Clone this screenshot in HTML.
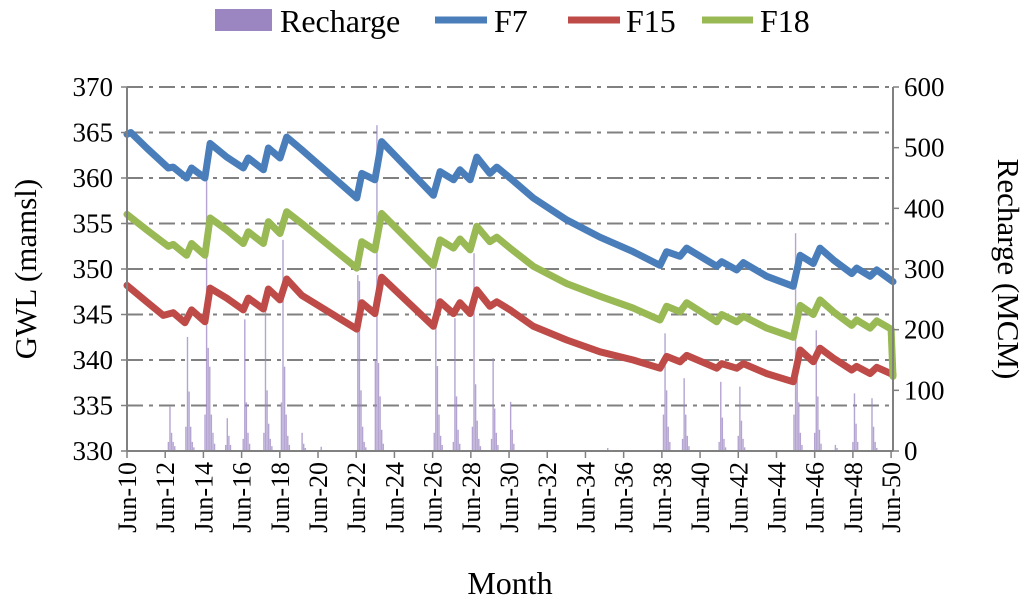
<!DOCTYPE html>
<html><head><meta charset="utf-8"><style>
body{margin:0;background:#fff;}
svg{display:block;font-family:"Liberation Serif",serif;}
</style></head><body>
<svg id="chart" width="1024" height="607" viewBox="0 0 1024 607">
<g id="grid"></g>
<g id="bars"></g>
<g id="lines"></g>
<g id="axes"></g>
<g>
  <rect x="215" y="9" width="57" height="22" fill="#9b86c2"/>
  <text x="280" y="32" font-size="32">Recharge</text>
  <line x1="435" y1="20" x2="487" y2="20" stroke="#4a7ebb" stroke-width="7"/>
  <text x="494" y="32" font-size="32">F7</text>
  <line x1="568" y1="20" x2="620" y2="20" stroke="#be4b48" stroke-width="7"/>
  <text x="626" y="32" font-size="32">F15</text>
  <line x1="702" y1="20" x2="753" y2="20" stroke="#98b954" stroke-width="7"/>
  <text x="760" y="32" font-size="32">F18</text>
</g>
<text x="0" y="0" font-size="31" text-anchor="middle" transform="translate(36,269) rotate(-90)">GWL (mamsl)</text>
<text x="0" y="0" font-size="31" text-anchor="middle" transform="translate(998,269) rotate(90)">Recharge (MCM)</text>
<text x="510" y="594" font-size="32" text-anchor="middle">Month</text>
</svg>
<script>
const leftTicks=[330,335,340,345,350,355,360,365,370];
const rightTicks=[0,100,200,300,400,500,600];
const xTickLabels=["Jun-10","Jun-12","Jun-14","Jun-16","Jun-18","Jun-20","Jun-22","Jun-24","Jun-26","Jun-28","Jun-30","Jun-32","Jun-34","Jun-36","Jun-38","Jun-40","Jun-42","Jun-44","Jun-46","Jun-48","Jun-50"];
const f7T=[0,0.2,1.03,2.16,2.42,3.12,3.38,4.08,4.35,5.22,6.09,6.35,7.14,7.4,8.01,8.36,9.15,12.03,12.29,12.98,13.33,16.04,16.39,17.09,17.43,17.96,18.31,19.0,19.36,20.05,21.27,23.02,24.76,26.5,27.9,28.25,28.95,29.3,30.87,31.13,31.92,32.27,33.49,34.88,35.24,35.93,36.28,36.98,37.94,38.2,38.9,39.25,40.1];
const f7V=[364.8,365.0,363.3,361.1,361.2,360.0,361.1,360.0,363.8,362.3,361.1,362.2,360.9,363.3,362.2,364.5,363.1,357.8,360.5,359.8,364.0,358.1,360.7,359.8,360.9,359.8,362.3,360.5,361.2,360.0,357.8,355.4,353.5,351.9,350.4,351.9,351.4,352.3,350.3,350.8,349.9,350.7,349.2,348.1,351.5,350.6,352.3,351.0,349.5,350.1,349.2,349.9,348.6];
const f18T=[0,1.03,2.16,2.42,3.12,3.38,4.08,4.35,5.22,6.09,6.35,7.14,7.4,8.01,8.36,9.15,12.03,12.29,12.98,13.33,16.04,16.39,17.09,17.43,17.96,18.31,19.0,19.36,20.05,21.27,23.02,24.76,26.5,27.9,28.25,28.95,29.3,30.87,31.13,31.92,32.27,33.49,34.88,35.24,35.93,36.28,36.98,37.94,38.2,38.9,39.25,40.0,40.1];
const f18V=[356.0,354.3,352.5,352.7,351.5,352.8,351.5,355.6,354.3,352.8,354.1,352.8,355.2,353.9,356.3,355.0,350.1,353.0,352.1,356.1,350.4,353.2,352.3,353.3,352.1,354.7,353.0,353.5,352.3,350.3,348.4,347.0,345.7,344.4,345.9,345.3,346.3,344.2,345.0,344.2,344.8,343.5,342.5,346.0,345.0,346.6,345.3,343.8,344.4,343.5,344.3,343.4,338.2];
const f15T=[0,1.03,1.9,2.42,3.03,3.38,4.08,4.35,5.22,6.09,6.35,7.14,7.4,8.01,8.36,9.15,12.03,12.29,12.98,13.33,16.04,16.39,17.09,17.43,17.96,18.31,19.0,19.36,20.05,21.27,23.02,24.76,26.5,27.9,28.25,28.95,29.3,30.87,31.13,31.92,32.27,33.49,34.88,35.24,35.93,36.28,36.98,37.94,38.2,38.9,39.25,40.1];
const f15V=[348.2,346.4,344.9,345.2,344.1,345.5,344.2,347.9,346.8,345.5,346.8,345.6,347.8,346.6,348.9,347.1,343.4,346.3,345.1,349.1,343.7,346.4,345.1,346.3,345.1,347.7,345.9,346.4,345.5,343.7,342.2,340.9,340.0,339.1,340.4,339.8,340.5,339.1,339.6,339.1,339.6,338.5,337.6,341.1,339.8,341.3,340.2,338.9,339.3,338.5,339.2,338.4];
const rechargeMonth=[26,27,28,29,30,37,38,39,40,41,42,49,50,51,52,53,54,55,62,63,64,65,73,74,75,76,77,86,87,88,89,90,91,97,98,99,100,101,102,110,111,112,122,145,146,147,148,149,150,156,157,158,159,160,161,193,194,195,196,197,198,205,206,207,208,209,217,218,219,220,221,222,229,230,231,232,233,241,242,243,302,337,338,339,340,341,349,350,351,352,353,372,373,374,375,376,384,385,386,387,388,419,420,421,422,423,424,432,433,434,435,436,445,446,456,457,458,459,468,469,470,471];
const rechargeValue=[15,73,30,15,8,40,188,98,40,15,6,60,455,170,139,60,30,12,10,54,25,10,20,217,80,30,12,30,232,100,45,20,8,80,348,139,60,25,10,30,12,5,7,290,280,100,40,15,6,150,537,145,90,35,12,30,303,140,60,25,10,15,219,90,35,12,40,326,110,50,20,8,20,153,70,30,10,81,35,12,5,60,194,100,40,15,20,120,60,25,8,15,114,55,20,6,25,106,50,20,6,60,359,120,80,30,10,30,199,90,35,12,10,5,15,95,45,15,87,40,15,5];

const NS='http://www.w3.org/2000/svg';
const X0=127,X1=893,T1=40.1,Y0=451,Y1=87;
const xs=t=>X0+(t/T1)*(X1-X0);
const yL=v=>Y0-(v-330)/40*(Y0-Y1);
const yR=v=>Y0-v/600*(Y0-Y1);
function mk(tag,attrs,parent){const e=document.createElementNS(NS,tag);for(const k in attrs)e.setAttribute(k,attrs[k]);parent.appendChild(e);return e;}
const grid=document.getElementById('grid'),bars=document.getElementById('bars'),lines=document.getElementById('lines'),axes=document.getElementById('axes');

leftTicks.forEach(v=>{
  if(v>330){const g=mk('line',{x1:X0,x2:X1,y1:yL(v),y2:yL(v),stroke:'#808080','stroke-width':2,'stroke-dasharray':'16,6,4,6'},grid);
  
  }
  const t=mk('text',{x:113,y:yL(v)+9,'font-size':27,'text-anchor':'end'},axes);t.textContent=v;
  
  
});
rightTicks.forEach(v=>{
  const t=mk('text',{x:904,y:yR(v)+9,'font-size':27,'text-anchor':'start'},axes);t.textContent=v;
  
  
  mk('line',{x1:X1,x2:X1+6,y1:yR(v),y2:yR(v),stroke:'#808080','stroke-width':1.5},axes);
});
mk('line',{x1:X0,x2:X0,y1:Y1,y2:Y0,stroke:'#808080','stroke-width':2},axes);
mk('line',{x1:X1,x2:X1,y1:Y1,y2:Y0,stroke:'#808080','stroke-width':2},axes);
mk('line',{x1:X0,x2:X1,y1:Y0,y2:Y0,stroke:'#808080','stroke-width':2},axes);
leftTicks.forEach(v=>mk('line',{x1:X0-6,x2:X0,y1:yL(v),y2:yL(v),stroke:'#808080','stroke-width':1.5},axes));
xTickLabels.forEach((s,i)=>{
  const x=xs(i*2);
  mk('line',{x1:x,x2:x,y1:Y0,y2:Y0+7,stroke:'#808080','stroke-width':1.5},axes);
  const t=mk('text',{x:0,y:0,'font-size':26,'text-anchor':'end',transform:`translate(${x+9},${Y0+11}) rotate(-90)`},axes);
  t.textContent=s;
  
  
});
rechargeMonth.forEach((m,i)=>{
  const x=xs(m/12),y=yR(rechargeValue[i]);
  const r=mk('rect',{x:x-0.7,y:y,width:1.4,height:Y0-y,fill:'#9b86c2','fill-opacity':0.75},bars);
  
  
});
function series(T,V,color,name){
  const d=T.map((t,i)=>(i?'L':'M')+xs(t).toFixed(1)+','+yL(V[i]).toFixed(1)).join('');
  const p=mk('path',{d:d,fill:'none',stroke:color,'stroke-width':7,'stroke-linejoin':'round','stroke-linecap':'round'},lines);
  
  
}
series(f15T,f15V,'#be4b48','line-f15');
series(f18T,f18V,'#98b954','line-f18');
series(f7T,f7V,'#4a7ebb','line-f7');
</script>
</body></html>
